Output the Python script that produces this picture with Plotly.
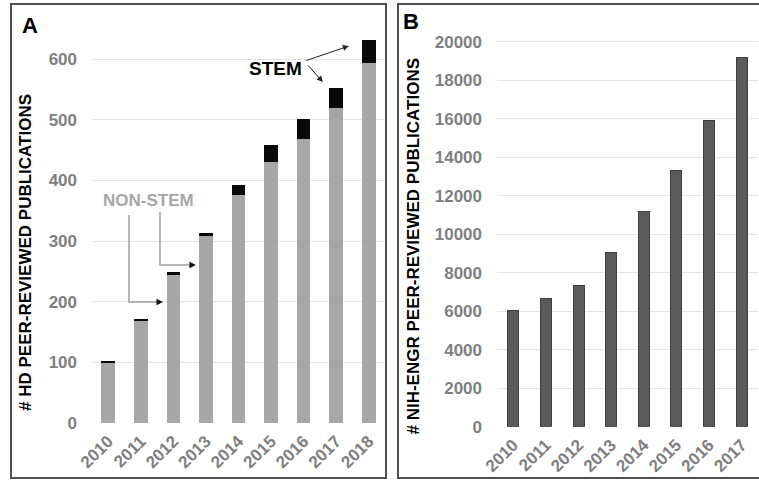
import plotly.graph_objects as go

years_a = ["2010", "2011", "2012", "2013", "2014", "2015", "2016", "2017", "2018"]
non_stem = [100, 169, 246, 308, 376, 430, 468, 520, 593]
stem = [2, 2, 3, 5, 16, 28, 33, 33, 39]

years_b = ["2010", "2011", "2012", "2013", "2014", "2015", "2016", "2017"]
nih_engr = [6060, 6670, 7320, 9060, 11200, 13300, 15900, 19170]

W, H = 759, 480
TICK_GRAY = "#7f7f7f"
FONT = "Liberation Sans, Arial, sans-serif"

fig = go.Figure()
fig.add_trace(go.Bar(x=years_a, y=non_stem, marker=dict(color="#a9a6a6", line=dict(width=0)),
                     width=0.42, xaxis="x", yaxis="y", name="NON-STEM"))
fig.add_trace(go.Bar(x=years_a, y=stem, marker=dict(color="#0a0a0a", line=dict(width=0)),
                     width=0.42, xaxis="x", yaxis="y", name="STEM"))
fig.add_trace(go.Bar(x=years_b, y=nih_engr, marker=dict(color="#5a5a5a", line=dict(color="#3f3f3f", width=1)),
                     width=0.34, xaxis="x2", yaxis="y2", name="NIH-ENGR"))

ax_common = dict(type="category", showgrid=False, showline=False, zeroline=False, automargin=False,
                 tickangle=-45, ticks="", ticklabelstandoff=4,
                 tickfont=dict(family=FONT, size=17, color=TICK_GRAY, weight="bold"))
ay_common = dict(showgrid=True, gridcolor="#e4e4e4", gridwidth=1, zeroline=False, showline=False,
                 automargin=False, ticks="", ticklabelstandoff=14, tickformat="d",
                 tickfont=dict(family=FONT, size=17, color=TICK_GRAY, weight="bold"))

fig.update_layout(
    width=W, height=H, margin=dict(l=0, r=0, t=0, b=0, autoexpand=False),
    paper_bgcolor="white", plot_bgcolor="white", showlegend=False, barmode="stack",
    xaxis=dict(domain=[92 / W, 385 / W], anchor="y", **ax_common),
    yaxis=dict(domain=[57 / H, (480 - 22.6) / H], range=[0, 660], anchor="x",
               tickvals=[0, 100, 200, 300, 400, 500, 600], **ay_common),
    xaxis2=dict(domain=[497 / W, 758 / W], anchor="y2", **ax_common),
    yaxis2=dict(domain=[53.3 / H, (480 - 32) / H], range=[0, 20500], anchor="x2",
                tickvals=list(range(0, 20001, 2000)), **ay_common),
)

# panel frames
fig.add_shape(type="rect", xref="paper", yref="paper", x0=11 / W, x1=386 / W, y0=1 - 478 / H, y1=1 - 4 / H,
              line=dict(color="#505050", width=2), fillcolor="rgba(0,0,0,0)", layer="above")
fig.add_shape(type="rect", xref="paper", yref="paper", x0=398 / W, x1=765 / W, y0=1 - 478 / H, y1=1 - 4 / H,
              line=dict(color="#505050", width=2), fillcolor="rgba(0,0,0,0)", layer="above")

# panel letters
fig.add_annotation(text="A", xref="paper", yref="paper", x=30 / W, y=1 - 25 / H, showarrow=False,
                   font=dict(family=FONT, size=22, color="black", weight="bold"), xanchor="center", yanchor="middle")
fig.add_annotation(text="B", xref="paper", yref="paper", x=411 / W, y=1 - 22 / H, showarrow=False,
                   font=dict(family=FONT, size=22, color="black", weight="bold"), xanchor="center", yanchor="middle")

# y titles
fig.add_annotation(text="# HD PEER-REVIEWED PUBLICATIONS", xref="paper", yref="paper", x=25 / W, y=1 - 253 / H,
                   textangle=-90, showarrow=False, xanchor="center", yanchor="middle",
                   font=dict(family=FONT, size=17, color="black", weight="bold"))
fig.add_annotation(text="# NIH-ENGR PEER-REVIEWED PUBLICATIONS", xref="paper", yref="paper", x=413 / W, y=1 - 246.5 / H,
                   textangle=-90, showarrow=False, xanchor="center", yanchor="middle",
                   font=dict(family=FONT, size=17, color="black", weight="bold"))

# STEM label and arrows
fig.add_annotation(text="STEM", xref="x", yref="y", x=5.135, y=584.8, showarrow=False,
                   font=dict(family=FONT, size=19, color="black", weight="bold"))
fig.add_annotation(xref="x", yref="y", axref="x", ayref="y", x=7.39, y=621.4, ax=6.04, ay=596.7,
                   text="", showarrow=True, arrowhead=2, arrowsize=1.2, arrowwidth=1, arrowcolor="#222")
fig.add_annotation(xref="x", yref="y", axref="x", ayref="y", x=6.59, y=562, ax=6.10, ay=591.7,
                   text="", showarrow=True, arrowhead=2, arrowsize=1.2, arrowwidth=1, arrowcolor="#222")

# NON-STEM label and connectors
fig.add_annotation(text="NON-STEM", xref="x", yref="y", x=1.22, y=366, showarrow=False,
                   font=dict(family=FONT, size=17, color="#a6a6a6", weight="bold"))
fig.add_shape(type="path", xref="x", yref="y", path="M 0.636 342.9 L 0.636 199.5 L 1.55 199.5",
              line=dict(color="#a0a0a0", width=1.5))
fig.add_shape(type="path", xref="x", yref="y", path="M 1.588 347.8 L 1.588 260.4 L 2.56 260.4",
              line=dict(color="#a0a0a0", width=1.5))
fig.add_annotation(xref="x", yref="y", axref="x", ayref="y", x=1.68, y=199.5, ax=1.5, ay=199.5,
                   text="", showarrow=True, arrowhead=2, arrowsize=1.3, arrowwidth=1, arrowcolor="#111")
fig.add_annotation(xref="x", yref="y", axref="x", ayref="y", x=2.69, y=260.4, ax=2.51, ay=260.4,
                   text="", showarrow=True, arrowhead=2, arrowsize=1.3, arrowwidth=1, arrowcolor="#111")

fig.write_html("out.html", config={"displayModeBar": False},
               post_script="document.body.style.margin='0px';document.body.style.overflow='hidden';")
